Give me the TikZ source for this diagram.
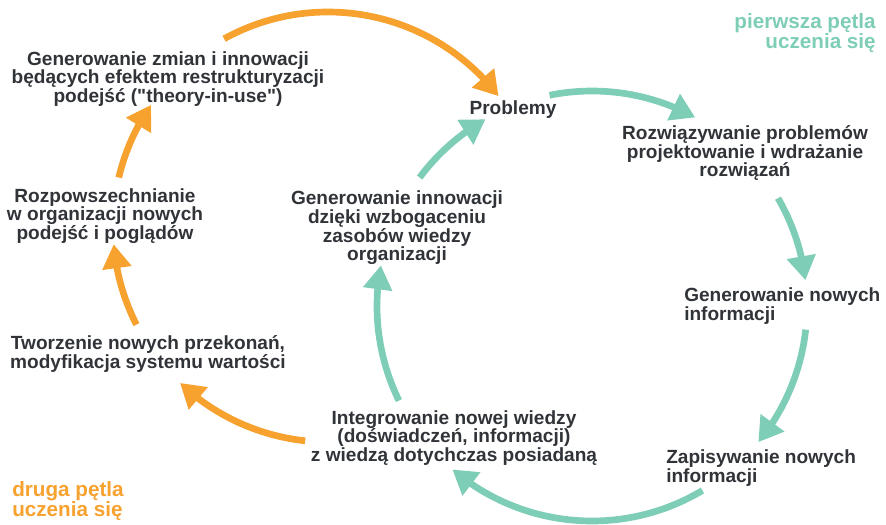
\documentclass[tikz,border=0pt]{standalone}
\usepackage{fontspec}
\setmainfont{Liberation Sans}[Ligatures=TeXOff]
\usetikzlibrary{arrows.meta,bending}
\definecolor{orng}{HTML}{F7A12E}
\definecolor{teal2}{HTML}{7ECDB7}
\definecolor{txt}{HTML}{303338}
\tikzset{
  lbl/.style={font=\bfseries\fontsize{14.3pt}{14pt}\selectfont, text=txt, inner sep=0pt},
  loopname/.style={font=\bfseries\fontsize{15.5pt}{15pt}\selectfont, inner sep=0pt},
  flow/.style={line width=5pt, -{Triangle[length=18pt,width=21pt,flex]}},
  oarr/.style={flow, draw=orng},
  tarr/.style={flow, draw=teal2}
}
\begin{document}
\begin{tikzpicture}[x=0.75pt,y=-0.75pt]
\useasboundingbox (0,0) rectangle (886,525);
% text nodes
\node[lbl, align=center] (gz) at (168,79) {Generowanie zmian i innowacji\\będących efektem restrukturyzacji\\podejść ("theory-in-use")};
\node[lbl, align=center] (rp) at (105,216) {Rozpowszechnianie\\w organizacji nowych\\podejść i poglądów};
\node[lbl, align=center] (tw) at (148,354) {Tworzenie nowych przekonań,\\modyfikacja systemu wartości};
\node[lbl, align=center] (ig) at (454,438) {Integrowanie nowej wiedzy\\(doświadczeń, informacji)\\z wiedzą dotychczas posiadaną};
\node[lbl, align=center] (gi) at (397,228) {Generowanie innowacji\\dzięki wzbogaceniu\\zasobów wiedzy\\organizacji};
\node[lbl, align=center] (pr) at (513,110) {Problemy};
\node[lbl, align=center] (rz) at (745,153) {Rozwiązywanie problemów\\projektowanie i wdrażanie\\rozwiązań};
\node[lbl, align=left, anchor=west] (gn) at (684,306) {Generowanie nowych\\informacji};
\node[lbl, align=left, anchor=west] (zn) at (666,468) {Zapisywanie nowych\\informacji};
\node[loopname, text=teal2, align=right, anchor=east] (p1) at (876,33) {pierwsza pętla\\uczenia się};
\node[loopname, text=orng, align=left, anchor=west] (p2) at (12,501) {druga pętla\\uczenia się};
% loop centres
\coordinate (OC) at (328,227);
\coordinate (TC) at (592,306);
% connector start points on the loops
\coordinate (o1s) at ([shift={(-118.9:215)}]OC);
\coordinate (o2s) at ([shift={(-166.7:215)}]OC);
\coordinate (o3s) at ([shift={(153:215)}]OC);
\coordinate (o4s) at ([shift={(96.1:215)}]OC);
\coordinate (t1s) at ([shift={(-101.4:215)}]TC);
\coordinate (t2s) at ([shift={(-30.1:215)}]TC);
\coordinate (t3s) at ([shift={(6.3:215)}]TC);
\coordinate (t4s) at ([shift={(59.1:215)}]TC);
\coordinate (t5s) at ([shift={(153.9:215)}]TC);
\coordinate (t6s) at ([shift={(216.7:215)}]TC);
% orange loop (second loop)
\draw[oarr] (o1s) arc[start angle=-118.9, end angle=-37.5, radius=215];
\draw[oarr] (o2s) arc[start angle=-166.7, end angle=-145.4, radius=215];
\draw[oarr] (o3s) arc[start angle=153, end angle=175.4, radius=215];
\draw[oarr] (o4s) arc[start angle=96.1, end angle=133.5, radius=215];
% teal loop (first loop)
\draw[tarr] (t1s) arc[start angle=-101.4, end angle=-61.3, radius=215];
\draw[tarr] (t2s) arc[start angle=-30.1, end angle=-6.9, radius=215];
\draw[tarr] (t3s) arc[start angle=6.3, end angle=39.3, radius=215];
\draw[tarr] (t4s) arc[start angle=59.1, end angle=130.5, radius=215];
\draw[tarr] (t5s) arc[start angle=153.9, end angle=190.9, radius=215];
\draw[tarr] (t6s) arc[start angle=216.7, end angle=240.3, radius=215];
\end{tikzpicture}
\end{document}
